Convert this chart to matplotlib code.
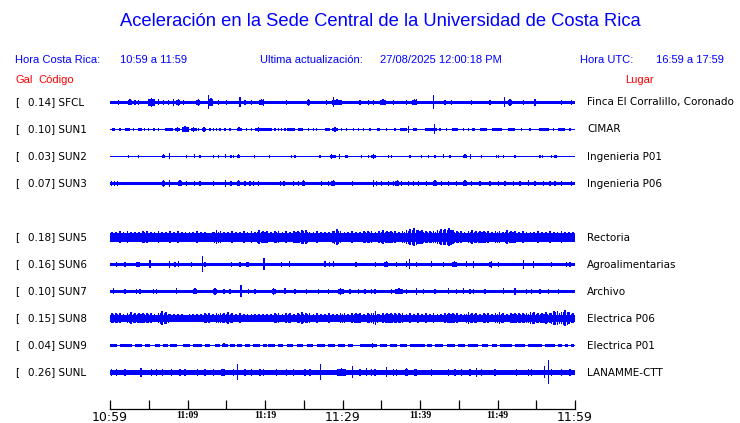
import matplotlib
matplotlib.use("Agg")
import matplotlib.pyplot as plt

# ---------------- data ----------------
TITLE = "Aceleración en la Sede Central de la Universidad de Costa Rica"
HORA_CR = "10:59 a 11:59"
ULTIMA = "27/08/2025 12:00:18 PM"
HORA_UTC = "16:59 a 17:59"

codes = ["SFCL", "SUN1", "SUN2", "SUN3", "SUN5", "SUN6", "SUN7", "SUN8", "SUN9", "SUNL"]
peaks_gal = [0.14, 0.10, 0.03, 0.07, 0.18, 0.16, 0.10, 0.15, 0.04, 0.26]
places = ["Finca El Corralillo, Coronado", "CIMAR", "Ingenieria P01", "Ingenieria P06",
          "Rectoria", "Agroalimentarias", "Archivo", "Electrica P06", "Electrica P01",
          "LANAMME-CTT"]
# background (continuous) half amplitude of each trace, in trace units
base_amp = [1.9, 0.9, 0.5, 1.9, 4.5, 1.9, 1.9, 3.5, 0.8, 2.3]

# time axis (minutes after 10:59)
tick_minutes = [0, 5, 10, 15, 20, 25, 30, 35, 40, 45, 50, 55, 60]
label_minutes = [0, 10, 20, 30, 40, 50, 60]
time_labels = ["10:59", "11:09", "11:19", "11:29", "11:39", "11:49", "11:59"]

# bursts: (minute, half amplitude, duration in minutes)
SFCL_EVENTS = [(1.07, 2.7, 0.15), (2.58, 3.0, 0.5), (3.23, 2.7, 0.15), (3.65, 2.7, 0.15),
               (5.38, 4.5, 0.9), (6.23, 3.0, 0.15), (6.88, 2.7, 0.15), (7.52, 2.7, 0.15),
               (8.17, 3.5, 0.15), (8.81, 3.5, 0.5), (9.46, 2.7, 0.15), (11.39, 3.5, 0.5),
               (12.68, 7.0, 0.15), (13.03, 4.0, 0.4), (13.97, 2.7, 0.15), (15.06, 2.7, 0.15),
               (16.77, 5.0, 0.15), (17.42, 2.7, 0.15), (18.28, 2.7, 0.15), (19.57, 3.0, 0.6),
               (19.78, 3.5, 0.15), (22.80, 2.7, 0.15), (25.59, 3.5, 0.4), (27.96, 2.7, 0.15),
               (28.81, 5.0, 0.15), (29.29, 3.0, 1.2), (32.26, 2.7, 0.15), (33.33, 2.7, 0.15),
               (33.97, 2.7, 0.15), (35.23, 3.0, 0.7), (36.55, 2.7, 0.15), (38.28, 2.7, 0.15),
               (39.29, 3.0, 0.6), (39.57, 3.0, 0.15), (41.72, 7.0, 0.15), (43.23, 2.2, 0.15),
               (44.09, 2.7, 0.15), (46.67, 2.7, 0.15), (49.03, 2.7, 0.15), (50.88, 5.0, 0.15),
               (51.61, 3.5, 0.4), (53.33, 2.7, 0.15), (54.84, 3.5, 0.15), (58.28, 2.7, 0.15),
               (59.57, 2.2, 0.15)]

SUN1_EVENTS = [(0.43, 1.8, 0.45), (1.29, 1.8, 0.15), (2.28, 1.8, 0.7), (3.01, 1.8, 0.15),
               (3.87, 1.8, 0.45), (4.43, 1.8, 0.15), (4.95, 1.8, 0.15), (5.72, 1.8, 0.3),
               (6.24, 1.8, 0.15), (7.61, 1.8, 1.1), (8.73, 2.2, 0.6), (9.68, 3.0, 0.9),
               (10.8, 2.5, 0.75), (11.4, 1.8, 0.15), (12.13, 2.2, 0.6), (12.9, 1.8, 0.15),
               (13.33, 1.8, 0.15), (13.76, 1.8, 0.15), (14.19, 1.8, 0.15), (14.84, 1.8, 0.15),
               (15.48, 1.8, 0.15), (16.65, 2.0, 0.65), (17.63, 1.8, 0.15), (18.28, 1.8, 0.15),
               (19.14, 2.5, 0.9), (20.1, 1.8, 1.5), (21.29, 1.8, 0.15), (21.72, 1.8, 0.15),
               (22.15, 1.8, 0.15), (22.58, 1.8, 0.15), (23.35, 1.8, 1.1), (24.6, 1.8, 0.65),
               (25.59, 1.8, 0.15), (26.24, 1.8, 0.15), (26.67, 1.8, 0.15), (28.06, 1.8, 0.65),
               (29.03, 2.2, 0.85), (29.89, 1.8, 0.15), (30.54, 1.8, 0.15), (31.4, 1.8, 0.15),
               (32.04, 1.8, 0.15), (32.69, 1.8, 0.15), (33.55, 1.8, 0.15), (34.62, 1.8, 0.45),
               (35.7, 1.8, 0.15), (36.77, 1.8, 0.15), (37.85, 1.8, 0.85), (38.49, 3.5, 0.15),
               (39.35, 1.8, 0.45), (41.4, 1.8, 1.5), (41.85, 5.0, 0.15), (42.58, 1.8, 0.15),
               (43.44, 1.8, 0.15), (44.52, 1.8, 0.85), (45.59, 1.8, 0.15), (46.24, 1.8, 0.15),
               (46.88, 1.8, 0.45), (48.17, 1.8, 0.85), (49.9, 1.8, 1.3), (51.84, 1.8, 0.85),
               (53.12, 1.8, 0.15), (54.19, 1.8, 0.15), (56.0, 1.8, 1.3), (57.2, 1.8, 0.15),
               (58.28, 1.8, 0.85), (59.35, 1.8, 0.15)]

SUN2_EVENTS = [(2.37, 1.5, 0.15), (3.65, 1.5, 0.15), (6.88, 2.0, 0.45), (7.66, 3.0, 0.15),
               (9.89, 1.5, 0.15), (10.88, 2.0, 0.15), (11.61, 1.5, 0.15), (13.33, 1.5, 0.15),
               (13.98, 1.5, 0.15), (14.93, 2.0, 0.15), (15.61, 1.5, 0.15), (15.91, 1.5, 0.15),
               (16.56, 2.0, 0.45), (18.63, 1.5, 0.15), (20.56, 1.5, 0.15), (23.44, 1.5, 0.15),
               (23.87, 1.5, 0.15), (27.1, 1.5, 0.15), (28.6, 2.5, 0.5), (29.03, 1.5, 0.15),
               (29.59, 2.5, 0.15), (30.54, 1.5, 0.4), (32.47, 1.5, 0.15), (33.33, 1.5, 0.15),
               (33.98, 2.5, 0.6), (35.91, 1.5, 0.15), (36.34, 1.5, 0.15), (38.71, 1.5, 0.15),
               (40.22, 1.5, 0.15), (41.08, 1.5, 0.15), (41.94, 1.5, 0.15), (43.01, 2.0, 0.15),
               (43.87, 1.5, 0.15), (45.81, 2.0, 0.5), (46.54, 2.5, 0.15), (47.96, 1.5, 0.15),
               (49.9, 1.5, 0.15), (50.1, 1.5, 0.15), (50.75, 1.5, 0.15), (52.26, 1.5, 0.15),
               (55.48, 1.5, 0.15), (55.78, 1.5, 0.15), (56.99, 1.5, 0.15), (57.42, 1.5, 0.15),
               (57.63, 1.5, 0.15)]

SUN3_EVENTS = [(0.21, 2.7, 0.15), (0.56, 2.7, 0.15), (0.99, 2.7, 0.15), (6.88, 3.3, 0.45),
               (7.66, 3.3, 0.15), (9.03, 3.0, 0.5), (9.89, 2.7, 0.15), (10.88, 2.7, 0.15),
               (11.61, 2.7, 0.15), (13.33, 2.7, 0.15), (14.93, 3.5, 0.15), (15.61, 2.7, 0.15),
               (16.56, 3.0, 0.45), (17.42, 2.7, 0.15), (18.06, 2.7, 0.15), (18.49, 2.7, 0.15),
               (19.14, 2.7, 0.15), (22.02, 2.7, 0.15), (22.45, 2.7, 0.15), (23.66, 2.7, 0.15),
               (24.3, 2.7, 0.15), (24.95, 3.0, 0.4), (27.31, 2.7, 0.15), (28.17, 2.7, 0.15),
               (28.82, 3.0, 0.5), (31.31, 2.7, 0.15), (33.98, 3.3, 0.15), (34.41, 2.7, 0.15),
               (35.05, 2.7, 0.15), (35.91, 2.7, 0.15), (36.56, 2.7, 0.15), (37.07, 3.0, 0.5),
               (37.63, 2.7, 0.15), (38.49, 2.7, 0.15), (39.14, 2.7, 0.15), (39.78, 2.7, 0.15),
               (40.86, 2.7, 0.15), (41.94, 3.0, 0.4), (42.8, 2.7, 0.15), (43.65, 2.7, 0.15),
               (44.73, 2.7, 0.15), (45.81, 3.0, 0.5), (46.67, 2.7, 0.15), (47.74, 2.7, 0.15),
               (49.03, 2.7, 0.15), (50.11, 2.7, 0.15), (50.97, 2.7, 0.15), (52.04, 2.7, 0.15),
               (52.9, 2.7, 0.15), (53.98, 3.0, 0.15), (54.84, 2.7, 0.15), (55.91, 2.7, 0.15),
               (56.77, 2.7, 0.15), (57.42, 2.7, 0.15), (58.28, 2.7, 0.15), (59.57, 2.7, 0.15)]

SUN6_EVENTS = [(0.86, 2.5, 0.15), (1.94, 2.7, 0.15), (3.66, 2.7, 0.5), (5.16, 4.0, 0.15),
               (7.66, 3.5, 0.15), (8.39, 2.7, 0.15), (8.82, 3.0, 0.15), (10.54, 2.7, 0.15),
               (11.91, 8.0, 0.15), (12.26, 2.7, 0.15), (15.7, 2.7, 0.15), (16.77, 2.7, 0.15),
               (17.74, 2.7, 0.3), (19.87, 6.0, 0.15), (22.15, 2.7, 0.15), (23.14, 3.0, 0.15),
               (27.74, 3.0, 0.15), (28.3, 2.7, 0.15), (28.82, 3.0, 0.15), (31.74, 2.7, 0.15),
               (34.28, 2.7, 0.15), (35.65, 3.0, 0.55), (36.99, 2.7, 0.15), (38.28, 3.0, 0.15),
               (38.62, 5.0, 0.15), (39.57, 2.7, 0.15), (41.5, 3.0, 0.15), (43.01, 2.7, 0.15),
               (44.45, 3.0, 0.55), (46.02, 3.0, 0.15), (46.88, 3.5, 0.15), (49.03, 2.7, 0.15),
               (49.25, 3.5, 0.15), (50.11, 2.7, 0.15), (53.33, 4.5, 0.15), (54.62, 3.3, 0.15),
               (56.99, 2.7, 0.15), (58.92, 2.7, 0.15), (59.35, 2.7, 0.15)]

SUN7_EVENTS = [(0.43, 3.0, 0.15), (1.94, 2.7, 0.15), (3.44, 2.7, 0.15), (3.87, 2.7, 0.15),
               (5.59, 2.7, 0.15), (6.02, 2.7, 0.15), (8.6, 3.0, 0.15), (10.97, 3.0, 0.5),
               (13.55, 3.5, 0.6), (14.71, 2.7, 0.15), (15.48, 2.7, 0.15), (16.9, 6.0, 0.3),
               (17.85, 2.7, 0.15), (18.71, 2.7, 0.15), (21.14, 3.3, 0.6), (22.58, 3.0, 0.15),
               (23.87, 2.7, 0.15), (25.38, 2.7, 0.15), (26.88, 2.7, 0.15), (28.17, 2.7, 0.15),
               (29.78, 3.5, 0.7), (30.97, 2.7, 0.15), (32.04, 2.7, 0.15), (32.9, 2.7, 0.15),
               (33.76, 2.7, 0.15), (34.19, 2.7, 0.15), (36.34, 2.7, 0.15), (37.29, 3.0, 1.0),
               (38.28, 2.7, 0.15), (39.57, 3.5, 0.15), (40.43, 2.7, 0.15), (41.94, 2.7, 0.15),
               (43.66, 3.0, 0.15), (44.73, 2.7, 0.15), (45.59, 3.0, 0.15), (46.45, 2.7, 0.15),
               (46.88, 2.7, 0.15), (48.39, 2.7, 0.15), (50.75, 3.0, 0.15), (52.26, 3.5, 0.15),
               (53.76, 2.7, 0.15), (54.41, 2.7, 0.15), (55.48, 2.7, 0.15), (56.56, 2.7, 0.15),
               (57.85, 2.7, 0.15)]

SUNL_EVENTS = [(0.21, 3.0, 0.15), (0.86, 3.0, 0.15), (1.94, 3.0, 0.15), (4.0, 4.5, 0.15),
               (5.38, 3.0, 0.15), (6.02, 3.0, 0.15), (6.75, 3.5, 0.15), (7.96, 3.0, 0.15),
               (9.03, 3.0, 0.15), (9.68, 3.0, 0.15), (11.29, 3.0, 0.6), (12.26, 3.0, 0.15),
               (13.33, 3.3, 0.15), (14.62, 3.5, 0.5), (15.91, 3.0, 0.15), (16.43, 8.0, 0.15),
               (17.42, 3.0, 0.15), (18.28, 3.5, 0.15), (19.35, 3.0, 0.15), (19.78, 3.0, 0.15),
               (21.51, 3.0, 0.15), (22.8, 3.0, 0.15), (23.66, 3.0, 0.15), (25.16, 3.0, 0.15),
               (25.81, 3.0, 0.15), (27.18, 8.0, 0.15), (29.89, 4.0, 1.2), (31.27, 6.0, 0.15),
               (32.26, 3.0, 0.15), (33.12, 4.0, 0.15), (33.76, 3.5, 0.15), (34.19, 3.0, 0.15),
               (35.7, 5.0, 0.15), (36.56, 3.0, 0.15), (36.99, 3.0, 0.15), (38.28, 4.0, 0.4),
               (39.35, 3.0, 0.15), (39.57, 3.0, 0.15), (41.5, 3.0, 0.15), (43.66, 3.0, 0.15),
               (44.52, 3.0, 0.15), (45.38, 3.0, 0.15), (46.45, 3.3, 0.15), (47.31, 4.5, 0.15),
               (47.96, 3.0, 0.15), (49.68, 3.0, 0.15), (52.47, 3.0, 0.15), (53.98, 3.0, 0.15),
               (54.41, 3.0, 0.15), (56.04, 6.0, 0.15), (56.56, 12.0, 0.15), (56.99, 3.5, 0.15),
               (58.28, 3.5, 0.15), (59.35, 3.0, 0.15)]

SUN9_EVENTS = [(14.7, 2.0, 0.15), (33.9, 2.5, 0.15)]
SUN9_BLOCK_START = [0.0, 1.29, 3.23, 4.52, 5.81, 6.88, 7.74, 9.46, 10.75, 12.26, 13.55, 14.41,
                    15.48, 16.34, 17.42, 18.49, 19.8, 20.4, 21.7, 22.8, 24.1, 25.4, 26.7, 28.1,
                    29.4, 30.7, 32.3, 34.8, 36.1, 37.4, 38.7, 40.9, 41.9, 43.5, 44.9, 46.2,
                    48.0, 49.3, 50.3, 52.3, 53.9, 56.1, 57.8, 58.7, 59.5]
SUN9_BLOCK_END = [0.86, 2.8, 4.09, 5.16, 6.45, 7.52, 8.6, 10.32, 11.83, 12.9, 14.19, 15.27,
                  16.13, 16.99, 18.06, 19.35, 20.3, 21.3, 22.3, 23.6, 24.9, 26.2, 27.7, 29.0,
                  30.3, 31.4, 34.5, 35.7, 37.0, 38.3, 40.6, 41.5, 43.0, 44.5, 45.8, 47.5,
                  48.8, 49.9, 51.9, 53.5, 55.7, 57.4, 58.3, 59.1, 59.9]
SUN9_BLOCK_AMP = 1.6

# noisy stations: peak half amplitude in each half-minute
SUN5_ENV = [5, 5, 6, 5, 6, 5, 5, 5, 6, 6, 5, 5, 6, 5, 5, 6,
            5, 6, 5, 5, 5, 5, 6, 5, 5, 4, 5, 7, 6, 5, 5, 6,
            5, 5, 6, 5, 6, 5, 7, 6, 6, 5, 6, 6, 5, 6, 5, 6,
            6, 7, 7, 5, 5, 6, 5, 5, 5, 6, 8, 6, 5, 5, 6, 5,
            5, 6, 6, 6, 5, 6, 7, 6, 6, 6, 5, 6, 7, 8, 9, 7,
            7, 6, 6, 6, 7, 8, 8, 9, 7, 6, 6, 5, 6, 7, 6, 6,
            6, 6, 5, 6, 6, 5, 7, 6, 6, 5, 6, 5, 5, 5, 6, 5, 5, 6, 5, 5, 6, 5, 5, 5]
SUN8_ENV = [5, 5, 5, 4, 5, 6, 5, 5, 5, 5, 5, 4, 5, 7, 6, 4,
            4, 4, 4, 3, 4, 4, 4, 4, 5, 5, 4, 5, 5, 5, 6, 5,
            4, 5, 4, 4, 4, 4, 4, 4, 4, 4, 5, 5, 4, 5, 5, 4,
            5, 6, 5, 5, 4, 5, 4, 4, 5, 4, 4, 5, 5, 4, 5, 5,
            5, 4, 5, 5, 7, 4, 5, 5, 5, 5, 5, 5, 4, 5, 4, 5,
            4, 5, 4, 5, 4, 4, 5, 5, 5, 5, 4, 4, 6, 5, 5, 4,
            5, 5, 4, 5, 6, 5, 4, 5, 5, 5, 5, 5, 6, 6, 5, 5, 6, 5, 7, 7, 6, 8, 6, 5]

# ---------------- layout ----------------
W, H = 740, 423
BLUE = "#0000ff"
slots = [0, 1, 2, 3, 5, 6, 7, 8, 9, 10]   # SUN4 slot left empty
ROW0, ROW_STEP = 102.5, 27
X0, X1 = 110, 575
SPIKE_W = 0.15
MIN_RISE = 1.0   # a burst always shows at least this much above the background

fig = plt.figure(figsize=(W / 100, H / 100), dpi=100)
fig.patch.set_facecolor("white")


def fx(px):
    return px / W


def fy(py):
    return 1 - py / H


ax = fig.add_axes([fx(X0), 0, (X1 - X0) / W, 1])
ax.set_xlim(0, 60)
ax.set_ylim(H, 0)
ax.axis("off")


def bars(t, a, w, yc):
    ax.bar(t, [2 * v for v in a], width=w, bottom=[yc - v for v in a],
           color=BLUE, linewidth=0, antialiased=False, align="center")


def draw_events(events, yc, b):
    amps = [max(e[1], b + MIN_RISE) for e in events]
    # wide bursts: a lower body plus a full-height central spike
    wide = [(e, a) for e, a in zip(events, amps) if e[2] > SPIKE_W + 0.01]
    if wide:
        bars([e[0] for e, a in wide], [b + 0.6 * (a - b) for e, a in wide],
             [e[2] for e, a in wide], yc)
    bars([e[0] for e in events], amps, [SPIKE_W] * len(events), yc)


events_by_code = {"SFCL": SFCL_EVENTS, "SUN1": SUN1_EVENTS, "SUN2": SUN2_EVENTS,
                  "SUN3": SUN3_EVENTS, "SUN6": SUN6_EVENTS, "SUN7": SUN7_EVENTS,
                  "SUNL": SUNL_EVENTS, "SUN9": SUN9_EVENTS}
env_by_code = {"SUN5": SUN5_ENV, "SUN8": SUN8_ENV}

lab_font = dict(family="DejaVu Sans", fontsize=7.5, color="black", va="center")
for i, code in enumerate(codes):
    yc = ROW0 + ROW_STEP * slots[i]
    b = base_amp[i]
    # continuous background
    if code == "SUN9":
        bars([(s + e) / 2 for s, e in zip(SUN9_BLOCK_START, SUN9_BLOCK_END)],
             [SUN9_BLOCK_AMP] * len(SUN9_BLOCK_START),
             [e - s for s, e in zip(SUN9_BLOCK_START, SUN9_BLOCK_END)], yc)
    bars([30], [b], [60], yc)
    if code in env_by_code:
        env = env_by_code[code]
        tt = [0.25 + 0.5 * k for k in range(len(env))]
        bars(tt, env, [0.22] * len(env), yc)
        bars([t + 0.25 for t in tt[:-1]],
             [(env[k] + env[k + 1]) / 2 - 0.8 for k in range(len(env) - 1)],
             [0.15] * (len(env) - 1), yc)
    if code in events_by_code:
        draw_events(events_by_code[code], yc, b)
    # labels
    fig.text(fx(15), fy(yc), "[", **lab_font)
    fig.text(fx(27.5), fy(yc), f"{peaks_gal[i]:.2f}] {code}", **lab_font)
    fig.text(fx(587), fy(yc), places[i], **lab_font)

# header texts
fig.text(fx(380.5), fy(22), TITLE, family="Liberation Sans", fontsize=13.2,
         color=BLUE, ha="center", va="center")
hdr = dict(family="Liberation Sans", fontsize=8, color=BLUE, va="center")
fig.text(fx(15), fy(60), "Hora Costa Rica:", **hdr)
fig.text(fx(120), fy(60), HORA_CR, **hdr)
fig.text(fx(260), fy(60), "Ultima actualización:", **hdr)
fig.text(fx(380), fy(60), ULTIMA, **hdr)
fig.text(fx(580), fy(60), "Hora UTC:", **hdr)
fig.text(fx(724), fy(60), HORA_UTC, ha="right", **hdr)
red = dict(family="Liberation Sans", fontsize=8, color="red", va="center")
fig.text(fx(15), fy(80), "Gal", **red)
fig.text(fx(38), fy(80), "Código", **red)
fig.text(fx(625), fy(80), "Lugar", **red)

# time axis
AXIS_Y = 409
axt = fig.add_axes([fx(X0), fy(AXIS_Y), (X1 - X0) / W, 12 / H])
axt.set_xlim(0, 60)
axt.patch.set_visible(False)
for s in ("top", "left", "right"):
    axt.spines[s].set_visible(False)
axt.spines["bottom"].set_linewidth(0.9)
axt.set_yticks([])
axt.set_xticks(label_minutes)
axt.set_xticks([m for m in tick_minutes if m not in label_minutes], minor=True)
axt.set_xticklabels(time_labels)
axt.tick_params(which="both", direction="in", length=6.5, width=0.9, pad=1.5)
for j, lab in enumerate(axt.get_xticklabels()):
    if label_minutes[j] % 30 == 0:
        lab.set_fontfamily("DejaVu Sans")
        lab.set_fontsize(9)
    else:
        lab.set_fontfamily("Liberation Serif")
        lab.set_fontsize(7)
        lab.set_fontweight("bold")

fig.savefig("out.png", dpi=100, facecolor="white")
